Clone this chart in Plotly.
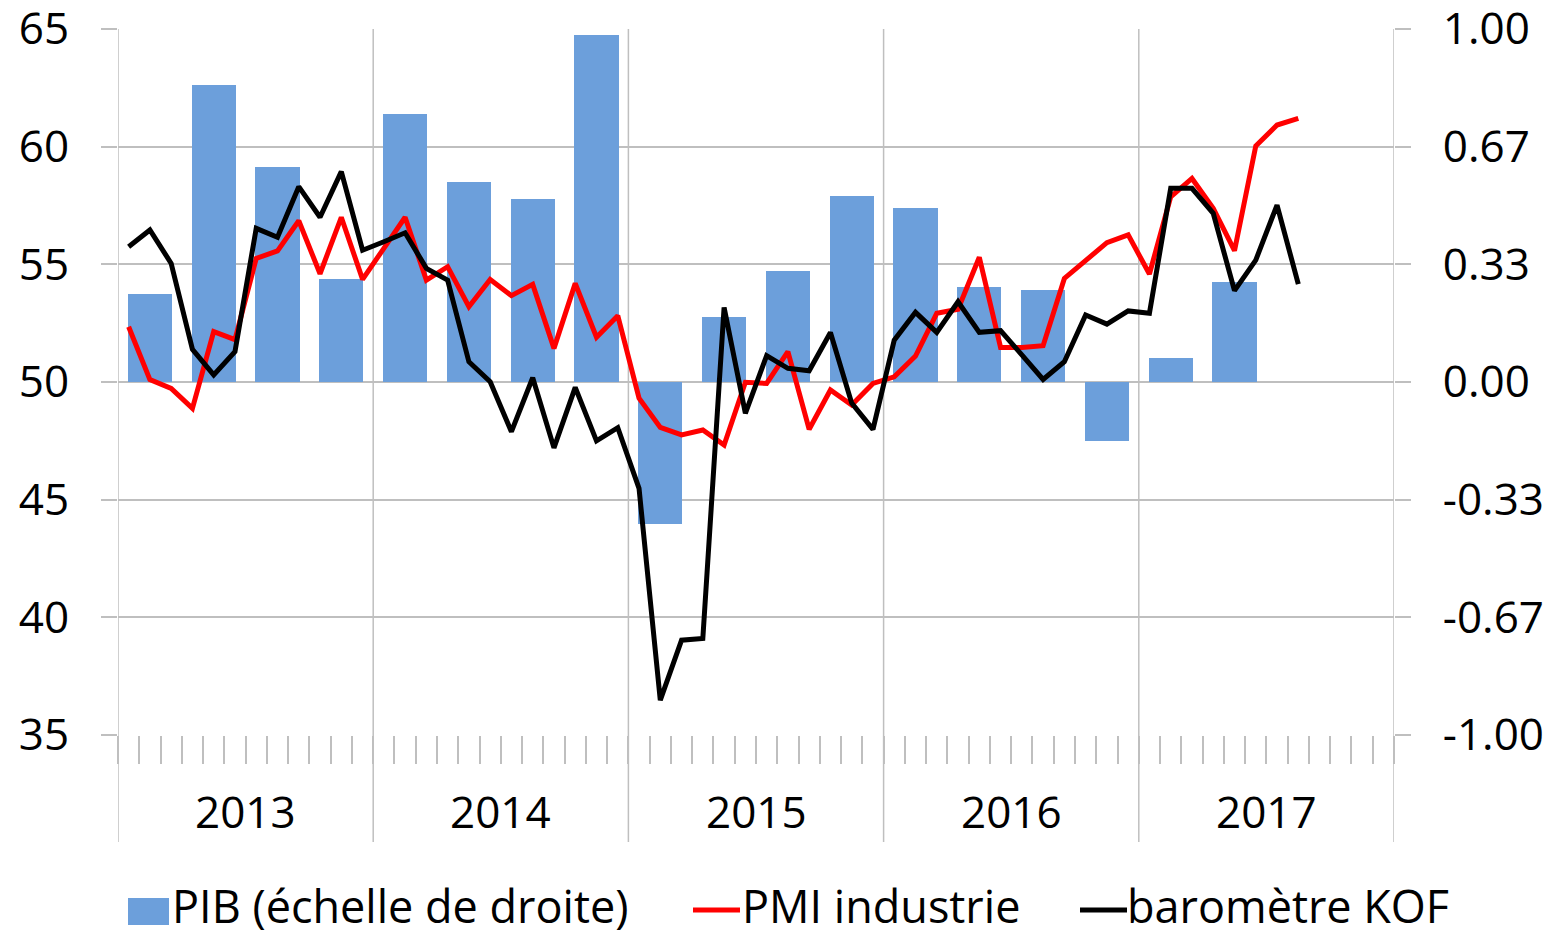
import plotly.graph_objects as go

years = ["2013", "2014", "2015", "2016", "2017"]
n_months_axis = 60  # Jan 2013 .. Dec 2017

pmi_industrie = [52.35, 50.1, 49.73, 48.88, 52.14, 51.8, 55.25, 55.57, 56.85, 54.6, 57.0, 54.36,
                 55.68, 57.0, 54.33, 54.9, 53.2, 54.36, 53.67, 54.15, 51.43, 54.19, 51.9, 52.82,
                 49.31, 48.07, 47.75, 47.96, 47.32, 49.99, 49.94, 51.29, 47.99, 49.66, 49.02, 49.94,
                 50.22, 51.1, 52.92, 53.09, 55.3, 51.47, 51.47, 51.54, 54.4, 55.18, 55.92, 56.25,
                 54.59, 57.87, 58.65, 57.38, 55.58, 60.03, 60.92, 61.2]

barometre_kof = [55.75, 56.46, 55.04, 51.39, 50.3, 51.29, 56.53, 56.15, 58.3, 57.0, 58.94, 55.6,
                 55.96, 56.34, 54.83, 54.33, 50.86, 50.01, 47.89, 50.18, 47.2, 49.77, 47.5, 48.06,
                 45.48, 36.48, 39.03, 39.1, 53.17, 48.67, 51.12, 50.58, 50.48, 52.1, 49.1, 47.99,
                 51.78, 52.96, 52.11, 53.41, 52.11, 52.18, 51.15, 50.11, 50.86, 52.85, 52.46, 53.02,
                 52.92, 58.23, 58.23, 57.17, 53.88, 55.18, 57.52, 54.16]

pib = [0.248, 0.841, 0.61, 0.292, 0.759, 0.567, 0.518, 0.983, -0.402,
       0.185, 0.314, 0.527, 0.494, 0.269, 0.262, -0.166, 0.067, 0.283]

left_ticks = [35, 40, 45, 50, 55, 60, 65]
right_tickvals = [-1, -2/3, -1/3, 0, 1/3, 2/3, 1]
right_ticktext = ["-1.00", "-0.67", "-0.33", "0.00", "0.33", "0.67", "1.00"]

GRID = "#BFBFBF"
BLUE = "#6C9FDB"
FONT = "Open Sans"
FS = 44
FS_LEG = 45

x_months = list(range(len(pmi_industrie)))
x_quarters = [3 * q + 1 for q in range(len(pib))]

fig = go.Figure()
fig.add_trace(go.Bar(x=x_quarters, y=pib, yaxis="y", width=2.07,
                     marker=dict(color=BLUE, line=dict(width=0)), name="PIB (échelle de droite)"))
fig.add_trace(go.Scatter(x=x_months, y=pmi_industrie, mode="lines", yaxis="y2",
                         line=dict(color="#FF0000", width=5), name="PMI industrie"))
fig.add_trace(go.Scatter(x=x_months, y=barometre_kof, mode="lines", yaxis="y2",
                         line=dict(color="#000000", width=5), name="baromètre KOF"))

# page has an 8px body offset; lay out in page pixels
OFF = 8
W, H = 1555, 932
L, T = 118 - OFF, 29 - OFF
pw, ph = 1276, 706
R, B = W - L - pw, H - T - ph

def px_x(p):
    return (p - OFF - L) / pw

def px_y(p):
    return (T + ph - (p - OFF)) / ph

shapes = []
for k in range(len(years) + 1):
    shapes.append(dict(type="line", xref="x", yref="paper", x0=12 * k - 0.5, x1=12 * k - 0.5,
                       y0=px_y(842), y1=1, line=dict(color=GRID, width=1.5), layer="below"))

# manual legend
shapes.append(dict(type="rect", xref="paper", yref="paper", x0=px_x(128), x1=px_x(169),
                   y0=px_y(925), y1=px_y(898), fillcolor=BLUE, line=dict(width=0)))
shapes.append(dict(type="line", xref="paper", yref="paper", x0=px_x(693), x1=px_x(740),
                   y0=px_y(910), y1=px_y(910), line=dict(color="#FF0000", width=5)))
shapes.append(dict(type="line", xref="paper", yref="paper", x0=px_x(1080), x1=px_x(1127),
                   y0=px_y(910), y1=px_y(910), line=dict(color="#000000", width=5)))

annotations = []
for k, yr in enumerate(years):
    annotations.append(dict(x=12 * k + 5.5, y=px_y(811), xref="x", yref="paper", text=yr,
                            showarrow=False, xanchor="center", yanchor="middle",
                            font=dict(family=FONT, size=FS, color="#000")))
for txt, xp in [("PIB (échelle de droite)", 170), ("PMI industrie", 740), ("baromètre KOF", 1125)]:
    annotations.append(dict(x=px_x(xp), y=px_y(905), xref="paper", yref="paper", text=txt,
                            showarrow=False, xanchor="left", yanchor="middle",
                            font=dict(family=FONT, size=FS_LEG, color="#000")))

fig.update_layout(
    width=W, height=H,
    margin=dict(l=L, r=R, t=T, b=B, autoexpand=False),
    paper_bgcolor="white", plot_bgcolor="white",
    showlegend=False,
    font=dict(family=FONT, size=FS, color="#000"),
    bargap=0,
    xaxis=dict(range=[-0.5, n_months_axis - 0.5], showgrid=False, zeroline=False,
               showline=False, tickmode="array", automargin=False,
               tickvals=[m - 0.5 for m in range(n_months_axis + 1)],
               ticks="outside", ticklen=28, tickcolor=GRID, tickwidth=1.5,
               showticklabels=False),
    yaxis=dict(range=[-1, 1.00001], side="right", tickmode="array", automargin=False,
               tickvals=right_tickvals, ticktext=right_ticktext, showgrid=True,
               gridcolor=GRID, gridwidth=1.5, ticklabeloverflow="allow",
               zeroline=False, showline=False, ticks="outside", ticklen=16, tickcolor=GRID,
               tickwidth=1.5, ticklabelstandoff=23, tickfont=dict(family=FONT, size=FS)),
    yaxis2=dict(range=[35, 65.0001], overlaying="y", side="left", tickvals=left_ticks,
                showgrid=False, automargin=False, ticklabeloverflow="allow",
                zeroline=False, showline=False, ticks="outside", ticklen=16, tickcolor=GRID,
                tickwidth=1.5, ticklabelstandoff=23, tickfont=dict(family=FONT, size=FS)),
    shapes=shapes,
    annotations=annotations,
)

fig.write_html("out.html")
